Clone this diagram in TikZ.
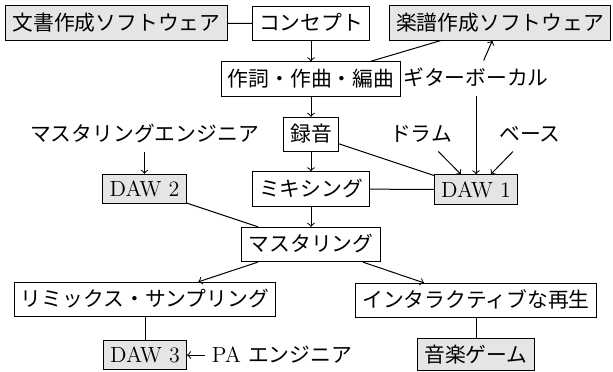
\documentclass[tikz,border=0pt]{standalone}
\usepackage{fontspec}
\newfontfamily\jpfont[Scale=0.945]{Noto Sans CJK JP}
\begin{document}
\begin{tikzpicture}[x=0.5pt,y=-0.5pt,
  every node/.style={font=\fontsize{11}{13}\selectfont, inner sep=0.3333em},
  jp/.style={font=\fontsize{11}{13}\selectfont\jpfont, text height=8.9pt, text depth=1.6pt},
  box/.style={draw, line width=0.5pt},
  gbox/.style={box, fill=black!10},
  conn/.style={line width=0.5pt},
  arr/.style={conn, ->}]
\useasboundingbox (0,0) rectangle (613,371);

\node[gbox,jp] (bunsho)  at (116.5,23) {文書作成ソフトウェア};
\node[box,jp]  (concept) at (311,23.5) {コンセプト};
\node[gbox,jp] (gakufu)  at (500,23)   {楽譜作成ソフトウェア};
\node[box,jp]  (sakushi) at (311,79)   {作詞・作曲・編曲};
\node[jp]      (guitar)  at (476,78)   {ギターボーカル};
\node[jp]      (meng)    at (144.5,134) {マスタリングエンジニア};
\node[box,jp]  (rokuon)  at (311,134.5) {録音};
\node[jp]      (drum)    at (421,134)  {ドラム};
\node[jp]      (bass)    at (530,134)  {ベース};
\node[gbox]    (daw2)    at (144.5,189) {DAW 2};
\node[box,jp]  (mixing)  at (311,189)  {ミキシング};
\node[gbox]    (daw1)    at (476,189.5) {DAW 1};
\node[box,jp]  (master)  at (311,244.5) {マスタリング};
\node[box,jp]  (remix)   at (145,299.5) {リミックス・サンプリング};
\node[box,jp]  (inter)   at (476,300.5) {インタラクティブな再生};
\node[gbox]    (daw3)    at (145,355)  {DAW 3};
\node          (pa)      at (282,355)  {PA {\jpfont エンジニア}};
\node[gbox,jp,text depth=0.9pt] (game) at (476,354.5) {音楽ゲーム};

\draw[conn] (bunsho) -- (concept);
\draw[arr]  (concept) -- (sakushi);
\draw[conn] (sakushi) -- (gakufu);
\draw[arr]  (guitar) -- (gakufu);
\draw[arr]  (sakushi) -- (rokuon);
\draw[arr]  (guitar) -- (daw1);
\draw[arr]  (drum) -- (daw1);
\draw[arr]  (bass) -- (daw1);
\draw[conn] (rokuon) -- (daw1);
\draw[arr]  (rokuon) -- (mixing);
\draw[conn] (mixing) -- (daw1);
\draw[arr]  (meng) -- (daw2);
\draw[conn] (daw2) -- (master);
\draw[arr]  (mixing) -- (master);
\draw[arr]  (master) -- (remix);
\draw[arr]  (master) -- (inter);
\draw[conn] (remix) -- (daw3);
\draw[conn] (inter) -- (game);
\draw[arr]  (pa) -- (daw3);
\end{tikzpicture}
\end{document}
